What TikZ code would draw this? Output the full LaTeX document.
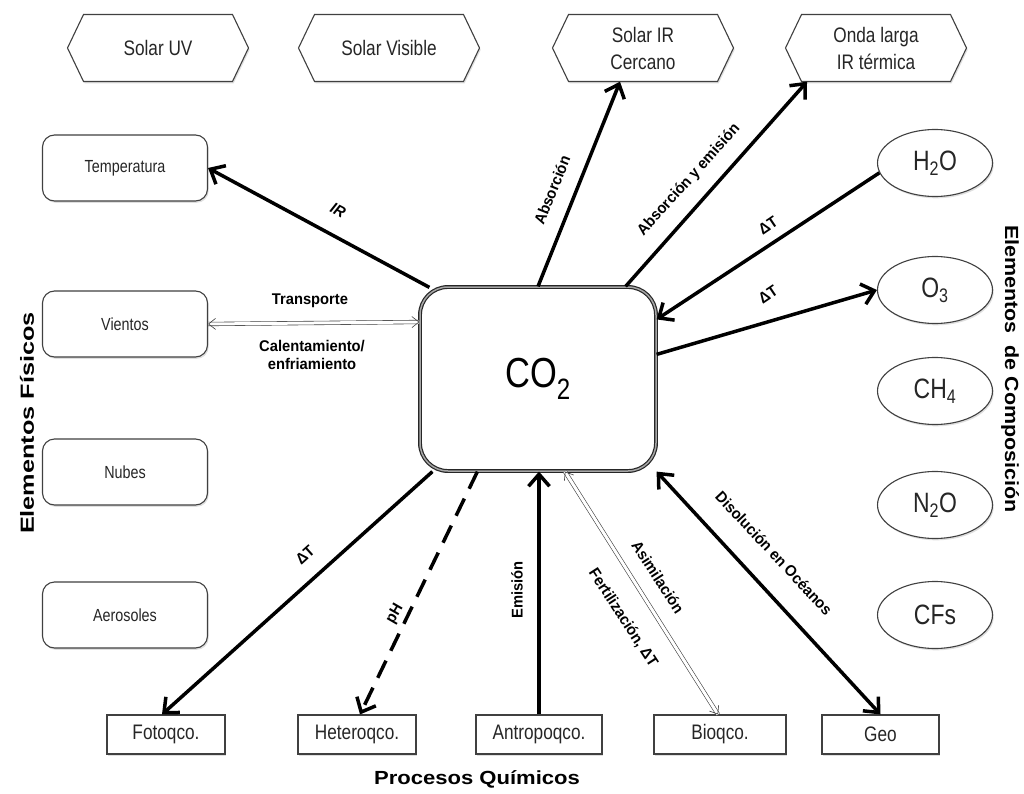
\documentclass[tikz,border=0pt]{standalone}
\usepackage{fontspec}
\setmainfont{Liberation Sans}
\newfontfamily\nf[FakeStretch=0.82]{Liberation Sans}
\newfontfamily\lf[FakeStretch=0.95]{Liberation Sans}
\usetikzlibrary{arrows.meta,shadows,calc,shapes.geometric}
\begin{document}
\begin{tikzpicture}[x=1pt,y=-1pt,
  shd/.style={drop shadow={shadow xshift=1.2pt,shadow yshift=-1.8pt,opacity=0.25}},
  hexline/.style={draw=black!75,line width=1.1pt,fill=white,shd},
  hext/.style={minimum width=181pt,minimum height=67pt,inner sep=0pt,align=center,
    font=\nf\fontsize{21}{27}\selectfont,text=black!85},
  rbox/.style={draw=black!75,line width=1.1pt,fill=white,rounded corners=12pt,shd,
    minimum width=165pt,minimum height=66pt,inner sep=0pt,
    font=\nf\fontsize{17.5}{20}\selectfont,text=black!85},
  ell/.style={ellipse,draw=black!75,line width=1.1pt,fill=white,shd,
    minimum width=115pt,minimum height=67pt,inner sep=0pt,
    font=\nf\fontsize{28}{32}\selectfont,text=black!85},
  pbox/.style={draw=black!75,line width=1.1pt,fill=white,shd,
    minimum height=39pt,inner sep=0pt,
    font=\nf\fontsize{21}{24}\selectfont,text=black!85},
  cobox/.style={draw=black!85,line width=1.2pt,double=black!35,double distance=1.5pt,
    rounded corners=28pt,minimum width=236pt,minimum height=184pt,fill=white,
    font=\nf\fontsize{42}{48}\selectfont},
  arr/.style={line width=3.5pt,-{Straight Barb[length=12pt,width=21pt]}},
  darr/.style={line width=3.5pt,{Straight Barb[length=12pt,width=21pt]}-{Straight Barb[length=12pt,width=21pt]}},
  dbl/.style={draw=black!75,line width=0.6pt,double=white,double distance=3pt},
  tip/.style={draw=black!75,line width=0.6pt,-{Straight Barb[length=7pt,width=11pt]}},
  lbl/.style={font=\lf\bfseries\fontsize{15.5}{18}\selectfont,inner sep=1pt},
  hd/.style={font=\bfseries\fontsize{19}{21}\selectfont,inner sep=0pt}
]
\useasboundingbox (0,0) rectangle (1024,794);
\fill[white] (0,0) rectangle (1024,794);

% hexagons
\foreach \cx in {158,389,643,876}{
  \draw[hexline] (\cx-90.5,48) -- (\cx-74.5,14.5) -- (\cx+74.5,14.5) -- (\cx+90.5,48)
     -- (\cx+74.5,81.5) -- (\cx-74.5,81.5) -- cycle;}
\node[hext] (uv)  at (158,48) {Solar UV};
\node[hext] (vis) at (389,48) {Solar Visible};
\node[hext] (irc) at (643,48) {Solar IR\\Cercano};
\node[hext] (ol)  at (876,48) {Onda larga\\IR térmica};

% physical elements
\node[rbox] (temp) at (125,168) {Temperatura};
\node[rbox] (vien) at (125,324) {Vientos};
\node[rbox] (nub)  at (125,472) {Nubes};
\node[rbox] (aer)  at (125,615) {Aerosoles};

% composition
\node[ell] (h2o) at (935,163) {H\textsubscript{2}O};
\node[ell] (o3)  at (935,290) {O\textsubscript{3}};
\node[ell] (ch4) at (935,391) {CH\textsubscript{4}};
\node[ell] (n2o) at (935,505) {N\textsubscript{2}O};
\node[ell] (cfs) at (935,615) {CFs};

% chemical processes
\node[pbox,minimum width=118pt] (foto)  at (166,734.5) {Fotoqco.};
\node[pbox,minimum width=118pt] (het)   at (357,734.5) {Heteroqco.};
\node[pbox,minimum width=126pt] (antro) at (539,734.5) {Antropoqco.};
\node[pbox,minimum width=132pt] (bio)   at (720,734.5) {Bioqco.};
\node[pbox,minimum width=117pt] (geo)   at (880.5,734.5) {Geo};

% CO2
\node[cobox] (co) at (538,379) {CO\textsubscript{2}};

% connectors
\draw[arr] ([xshift=10pt,yshift=-1pt]co.north west) -- (temp.east);
\draw[arr] (co.north) -- ([xshift=-23pt]irc.south);
\draw[arr] ([xshift=-31pt]co.north east) -- ([xshift=-69pt]ol.south);
\draw[arr] (h2o.190) -- ([yshift=-33pt]co.north east);
\draw[arr] ([yshift=-68pt]co.north east) -- (o3.west);
\draw[arr] ([xshift=13pt]co.south west) -- ([xshift=-4pt]foto.north);
\draw[arr,dash pattern=on 19pt off 11pt] ([xshift=58pt]co.south west) -- ([xshift=3pt]het.north);
\draw[arr] (antro.north) -- (antro.north |- co.south);
\draw[darr] (geo.north) -- (co.south east);

% double thin connectors
\coordinate (va) at (vien.east);
\coordinate (vb) at ([yshift=57pt]co.west);
\draw[dbl] (va) -- (vb);
\draw[tip] ($(va)!1pt!(vb)$) -- (va);
\draw[tip] ($(vb)!1pt!(va)$) -- (vb);
\coordinate (ba) at ([xshift=27pt]co.south);
\coordinate (bb) at ([xshift=-2pt]bio.north);
\draw[dbl] (ba) -- (bb);
\draw[tip] ($(ba)!1pt!(bb)$) -- (ba);
\draw[tip] ($(bb)!1pt!(ba)$) -- (bb);

% labels
\node[lbl,rotate=-28] (lir) at (338,210) {\itshape IR};
\node[lbl] (ltr) at (310,301) {Transporte};
\node[lbl,align=center] (lce) at (312,355) {Calentamiento/\\enfriamiento};
\node[lbl,rotate=68] (lab) at (552,190) {Absorción};
\node[lbl,rotate=48] (lae) at (689,180) {Absorción y emisión};
\node[lbl,rotate=34] (ldt1) at (768,226) {ΔT};
\node[lbl,rotate=34] (ldt2) at (768,295) {ΔT};
\node[lbl,rotate=42] (ldt3) at (305,555) {ΔT};
\node[lbl,rotate=60] (lph) at (395,614) {pH};
\node[lbl,rotate=90] (lem) at (517,590) {Emisión};
\node[lbl,rotate=-57] (las) at (658,577) {Asimilación};
\node[lbl,rotate=-57] (lfe) at (623,618) {Fertilización, ΔT};
\node[lbl,rotate=-47] (ldi) at (774,553) {Disolución en Océanos};

% headings
\node[hd,rotate=90] (hfis) at (27,423) {\scalebox{1.33}[1]{Elementos Físicos}};
\node[hd,rotate=-90] (hcom) at (1010,369) {\scalebox{1.13}[1]{Elementos\ \ de Composición}};
\node[hd] (hpro) at (477,779) {\scalebox{1.16}[1]{Procesos Químicos}};
\end{tikzpicture}
\end{document}
